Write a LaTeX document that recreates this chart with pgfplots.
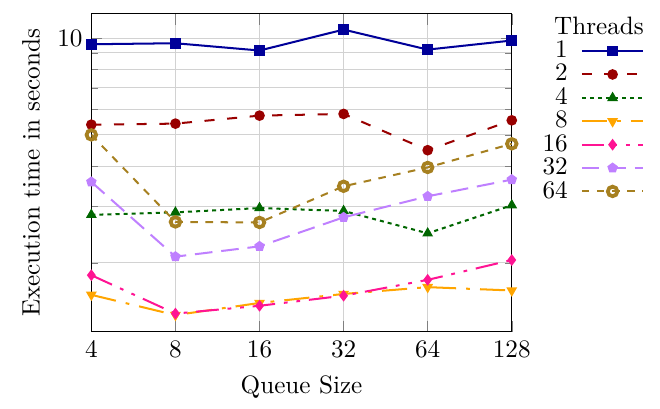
\documentclass[border={5.5pt 0.8pt 3.2pt 2.7pt}]{standalone}
\usepackage{pgfplots}
\pgfplotsset{compat=1.18}
\definecolor{c1}{RGB}{0,0,153}
\definecolor{c2}{RGB}{153,0,0}
\definecolor{c4}{RGB}{0,102,0}
\definecolor{c8}{RGB}{255,165,0}
\definecolor{c16}{RGB}{255,20,147}
\definecolor{c32}{RGB}{191,128,255}
\definecolor{c64}{RGB}{166,128,32}
\begin{document}
\begin{tikzpicture}
\begin{axis}[
  scale only axis,
  width=167pt, height=126.3pt,
  xmode=log, log basis x=2,
  ymode=log,
  xmin=4, xmax=128,
  ymin=1.22, ymax=11.9,
  xtick={4,8,16,32,64,128},
  xticklabels={4,8,16,32,64,128},
  ytick={10}, yticklabels={10},
  minor ytick={2,3,4,5,6,7,8,9},
  grid=both,
  major grid style={gray!35},
  minor grid style={gray!35},
  xlabel={Queue Size},
  ylabel={Execution time in seconds},
  every axis plot/.append style={thick, mark size=1.7pt},
  legend plot pos=right,
  legend cell align=right,
  legend image code/.code={\draw[mark repeat=2,mark phase=2] plot coordinates {(0cm,0cm)(0.43cm,0cm)(0.86cm,0cm)};},
  legend style={draw=none, fill=none, at={(1.03,1)}, anchor=north west, xshift=2pt, yshift=3pt, row sep=-2.9pt,
    /tikz/every odd column/.append style={column sep=3.2pt}},
]
\addlegendimage{empty legend}
\addlegendentry{\makebox[0pt][l]{\hspace{-5.4pt}Threads}}
\addplot[color=c1, solid, mark=square*] coordinates {(4,9.57) (8,9.64) (16,9.15) (32,10.63) (64,9.21) (128,9.83)};
\addlegendentry{1}
\addplot[color=c2, dash pattern=on 4pt off 5pt, mark=*, mark options={solid}] coordinates {(4,5.38) (8,5.42) (16,5.74) (32,5.81) (64,4.48) (128,5.55)};
\addlegendentry{2}
\addplot[color=c4, dash pattern=on 1.6pt off 1.6pt, mark=triangle*, mark options={solid}] coordinates {(4,2.82) (8,2.87) (16,2.96) (32,2.90) (64,2.47) (128,3.02)};
\addlegendentry{4}
\addplot[color=c8, dash pattern=on 10pt off 4pt on 1.5pt off 4pt, mark=triangle*, mark options={solid, rotate=180}] coordinates {(4,1.59) (8,1.375) (16,1.50) (32,1.60) (64,1.68) (128,1.64)};
\addlegendentry{8}
\addplot[color=c16, dash pattern=on 9pt off 3.5pt on 1.5pt off 3.5pt on 1.5pt off 3.5pt, mark=diamond*, mark options={solid}] coordinates {(4,1.83) (8,1.39) (16,1.47) (32,1.58) (64,1.77) (128,2.04)};
\addlegendentry{16}
\addplot[color=c32, dash pattern=on 7pt off 3.5pt, mark=pentagon*, mark options={solid}] coordinates {(4,3.57) (8,2.09) (16,2.25) (32,2.77) (64,3.22) (128,3.63)};
\addlegendentry{32}
\addplot[color=c64, dashed, mark=o, mark options={solid, line width=1.5pt}, mark size=1.9pt] coordinates {(4,5.0) (8,2.68) (16,2.67) (32,3.46) (64,3.96) (128,4.69)};
\addlegendentry{64}
\end{axis}
\end{tikzpicture}
\end{document}
